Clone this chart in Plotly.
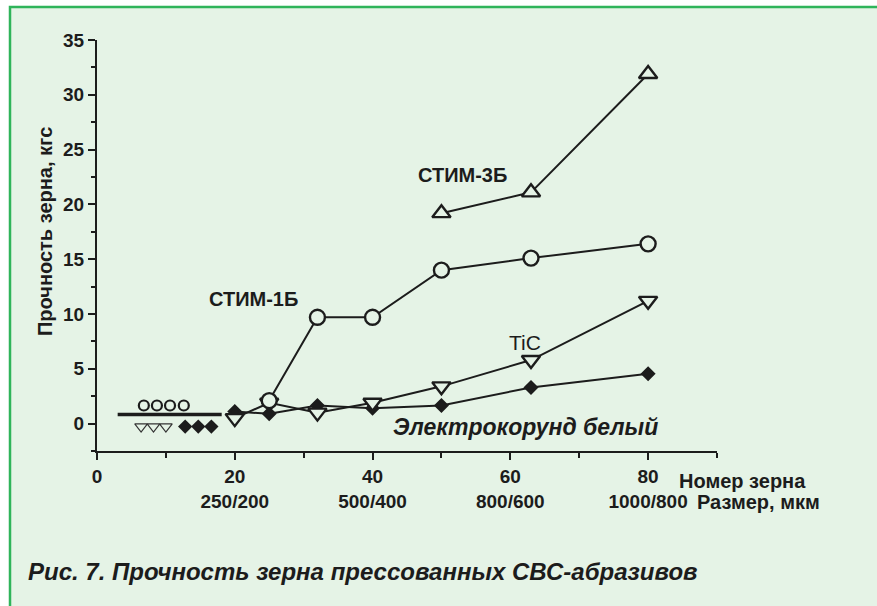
import plotly.graph_objects as go

# ---- data ----
stim3_x = [50, 63, 80]
stim3_y = [19.2, 21.1, 31.9]

stim1_x = [25, 32, 40, 50, 63, 80]
stim1_y = [2.1, 9.7, 9.7, 14.0, 15.1, 16.4]

tic_x = [20, 25, 32, 40, 50, 63, 80]
tic_y = [0.5, 1.9, 1.0, 1.9, 3.4, 5.8, 11.2]

elec_x = [20, 25, 32, 40, 50, 63, 80]
elec_y = [1.1, 0.9, 1.65, 1.4, 1.65, 3.3, 4.55]

low_line_x = [3.0, 18.1]
low_line_y = [0.82, 0.82]
low_circ_x = [6.8, 8.7, 10.6, 12.6]
low_circ_y = [1.65, 1.65, 1.65, 1.65]
low_tri_x = [6.4, 8.2, 10.0]
low_tri_y = [-0.27, -0.27, -0.27]
low_dia_x = [12.8, 14.7, 16.6]
low_dia_y = [-0.27, -0.27, -0.27]

x_tickvals = [0, 20, 40, 60, 80]
x_ticknum = ["0", "20", "40", "60", "80"]
x_ticksize = ["", "250/200", "500/400", "800/600", "1000/800"]
y_tickvals = [0, 5, 10, 15, 20, 25, 30, 35]

BG = "#E5F3E6"
INK = "#1C1C1C"
FONT = "Liberation Sans, Arial, sans-serif"

fig = go.Figure()

def series(x, y, symbol, size, filled=False, lw=2.0):
    fig.add_trace(go.Scatter(
        x=x, y=y, mode="lines+markers",
        line=dict(color=INK, width=lw),
        marker=dict(symbol=symbol, size=size,
                    color=INK if filled else BG,
                    line=dict(color=INK, width=2.4)),
        showlegend=False, cliponaxis=False))

series(elec_x, elec_y, "diamond", 9, filled=True)
series(tic_x, tic_y, "triangle-down", 16)
series(stim1_x, stim1_y, "circle", 15)
series(stim3_x, stim3_y, "triangle-up", 16)

# low-value group
fig.add_trace(go.Scatter(x=low_line_x, y=low_line_y, mode="lines",
                         line=dict(color=INK, width=3.5), showlegend=False))
fig.add_trace(go.Scatter(x=low_circ_x, y=low_circ_y, mode="markers",
                         marker=dict(symbol="circle", size=10, color=BG,
                                     line=dict(color=INK, width=2.2)),
                         showlegend=False))
fig.add_trace(go.Scatter(x=low_tri_x, y=low_tri_y, mode="markers",
                         marker=dict(symbol="triangle-down", size=11, color=BG,
                                     line=dict(color="#333", width=1.2)),
                         showlegend=False))
fig.add_trace(go.Scatter(x=low_dia_x, y=low_dia_y, mode="markers",
                         marker=dict(symbol="diamond", size=11, color=INK,
                                     line=dict(color=INK, width=0)),
                         showlegend=False))

x_ticktext = [f"{a}<br>{b}" if b else a for a, b in zip(x_ticknum, x_ticksize)]

fig.update_xaxes(range=[0, 90], tickvals=x_tickvals, ticktext=x_ticktext,
                 showgrid=False, zeroline=False, showline=True,
                 linecolor=INK, linewidth=2, ticks="outside", ticklen=7,
                 tickwidth=2, tickcolor=INK,
                 tickfont=dict(family=FONT, size=19, color=INK, weight="bold"),
                 minor=dict(dtick=10, tick0=0, ticks="outside", ticklen=5,
                            tickwidth=1.5, tickcolor=INK))
fig.update_yaxes(range=[-2.5, 35], tickvals=y_tickvals,
                 showgrid=False, zeroline=False, showline=True,
                 linecolor=INK, linewidth=2, ticks="outside", ticklen=7,
                 tickwidth=1.5, tickcolor=INK,
                 tickfont=dict(family=FONT, size=19, color=INK, weight="bold"),
                 minor=dict(dtick=2.5, tick0=0, ticks="outside", ticklen=4,
                            tickwidth=1.5, tickcolor=INK))

W, H = 877, 606
L, R, T, B = 97, 160, 40, 155
pw, ph = W - L - R, H - T - B

def px(x):
    return (x - L) / pw

def py(y):
    return (H - B - y) / ph

fig.add_shape(type="rect", xref="paper", yref="paper",
              x0=px(10), x1=px(W + 20), y0=py(7), y1=py(H + 20),
              fillcolor=BG, line=dict(color="#2FB45A", width=2.5), layer="below")

ann = [
    dict(x=53.1, y=22.7, text="<b>СТИМ-3Б</b>", size=20),
    dict(x=22.7, y=11.4, text="<b>СТИМ-1Б</b>", size=20),
    dict(x=62.1, y=7.4, text="TiC", size=21),
    dict(x=62.2, y=-0.35, text="<b><i>Электрокорунд белый</i></b>", size=23),
]
for a in ann:
    fig.add_annotation(x=a["x"], y=a["y"], xref="x", yref="y",
                       text=a["text"], showarrow=False,
                       font=dict(family=FONT, size=a["size"], color=INK))

fig.add_annotation(x=px(677), y=py(481), xref="paper", yref="paper",
                   xanchor="left", yanchor="middle", showarrow=False,
                   text="<b>Номер зерна</b>",
                   font=dict(family=FONT, size=20, color=INK))
fig.add_annotation(x=px(695), y=py(502), xref="paper", yref="paper",
                   xanchor="left", yanchor="middle", showarrow=False,
                   text="<b>Размер, мкм</b>",
                   font=dict(family=FONT, size=20, color=INK))
fig.add_annotation(x=px(32), y=py(232), xref="paper", yref="paper",
                   textangle=-90, showarrow=False,
                   text="<b>Прочность зерна, кгс</b>",
                   font=dict(family=FONT, size=20, color=INK))
fig.add_annotation(x=px(26), y=py(571), xref="paper", yref="paper",
                   xanchor="left", yanchor="middle", showarrow=False,
                   text="<b><i>Рис. 7. Прочность зерна прессованных СВС-абразивов</i></b>",
                   font=dict(family=FONT, size=24, color=INK))

fig.update_layout(width=W, height=H,
                  margin=dict(l=L, r=R, t=T, b=B),
                  paper_bgcolor="white", plot_bgcolor="rgba(0,0,0,0)",
                  showlegend=False)

fig.write_html("out.html",
               config={"displayModeBar": False},
               post_script="document.body.style.margin='0px';"
                           "document.body.style.overflow='hidden';")
